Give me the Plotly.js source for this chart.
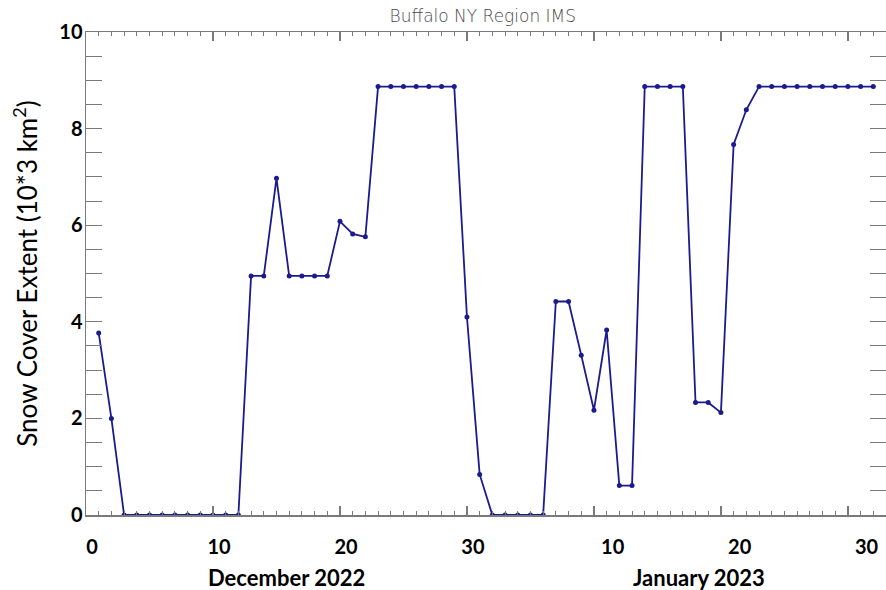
<!DOCTYPE html>
<html>
<head>
<meta charset="utf-8">
<script src="https://cdn.plot.ly/plotly-3.0.1.min.js"></script>
<style>html,body{margin:0;padding:0;background:#fff;}#chart{width:886px;height:590px;}</style>
</head>
<body>
<div id="chart"></div>
<script>
// Day index: 1 = Dec 1 2022 ... 62 = Jan 31 2023
const days = [1,2,3,4,5,6,7,8,9,10,11,12,13,14,15,16,17,18,19,20,21,22,23,24,25,26,27,28,29,30,31,
              32,33,34,35,36,37,38,39,40,41,42,43,44,45,46,47,48,49,50,51,52,53,54,55,56,57,58,59,60,61,62];
const snowCover = [3.77,2.0,0,0,0,0,0,0,0,0,0,0,4.95,4.95,6.97,4.95,4.95,4.95,4.95,6.08,5.82,5.76,
                   8.87,8.87,8.87,8.87,8.87,8.87,8.87,4.10,0.84,
                   0,0,0,0,0,4.42,4.42,3.31,2.17,3.83,0.61,0.61,8.87,8.87,8.87,8.87,2.33,2.33,2.12,7.67,8.39,
                   8.87,8.87,8.87,8.87,8.87,8.87,8.87,8.87,8.87,8.87];
const decLabelDays = [0,10,20,30];
const janLabelDays = [10,20,30];
const daysInDec = 31;
const tickVals = decLabelDays.concat(janLabelDays.map(d => d + daysInDec));
const tickText = decLabelDays.concat(janLabelDays).map(String);

const navy = '#1b1b8e';
const axisGray = '#7a7a7a';
const boldFont = {family: 'Lato, "Open Sans", sans-serif', size: 20, color: '#000', weight: 'bold'};
const monthFont = {family: 'Lato, "Open Sans", sans-serif', size: 22, color: '#000', weight: 'bold'};

const trace = {
  x: days, y: snowCover, type: 'scatter', mode: 'lines+markers',
  line: {color: navy, width: 1.8},
  marker: {color: navy, size: 5},
  hoverinfo: 'skip'
};

const layout = {
  width: 886, height: 590,
  margin: {l: 86, r: 0, t: 32, b: 75},
  paper_bgcolor: '#fff', plot_bgcolor: '#fff',
  showlegend: false,
  title: {
    text: 'Buffalo NY Region IMS',
    font: {family: '"DejaVu Sans", sans-serif', size: 17, color: '#4a4a4a', weight: 300},
    x: 0.496, xref: 'paper', y: 0.972, yref: 'container', yanchor: 'middle'
  },
  xaxis: {
    range: [0, 63], dtick: 10, tick0: 0,
    ticks: 'inside', ticklen: 9, tickwidth: 1.3, tickcolor: axisGray,
    minor: {dtick: 1, ticks: 'inside', ticklen: 4, tickwidth: 1, tickcolor: axisGray},
    showline: true, linecolor: axisGray, linewidth: 1.5, mirror: 'allticks',
    showgrid: false, zeroline: false, showticklabels: false
  },
  xaxis2: {
    overlaying: 'x', anchor: 'y', side: 'bottom',
    range: [0, 63], tickmode: 'array', tickvals: tickVals, ticktext: tickText,
    ticks: '', showline: false, showgrid: false, zeroline: false,
    tickfont: boldFont, ticklabelstandoff: 18, ticklabelshift: 6
  },
  yaxis: {
    range: [0, 10], dtick: 2, tick0: 0,
    ticks: 'inside', ticklen: 16, tickwidth: 1.3, tickcolor: axisGray,
    minor: {dtick: 0.5, ticks: 'inside', ticklen: 8, tickwidth: 1, tickcolor: axisGray},
    showline: true, linecolor: axisGray, linewidth: 1.5, mirror: 'allticks',
    showgrid: false, zeroline: false,
    tickfont: boldFont, ticklabelstandoff: -2,
    title: {
      text: 'Snow Cover Extent (10*3 km<sup>2</sup>)',
      font: {family: 'Lato, "Open Sans", sans-serif', size: 26, color: '#000'},
      standoff: 14
    }
  },
  annotations: [
    {text: 'December 2022', xref: 'x', yref: 'paper', x: 15.8, y: 0, yshift: -62,
     showarrow: false, font: monthFont, xanchor: 'center', yanchor: 'middle'},
    {text: 'January 2023', xref: 'x', yref: 'paper', x: 48.3, y: 0, yshift: -62,
     showarrow: false, font: monthFont, xanchor: 'center', yanchor: 'middle'}
  ]
};

const dummy = {x: [0], y: [0], xaxis: 'x2', yaxis: 'y', mode: 'markers', marker: {opacity: 0}, hoverinfo: 'skip'};

Plotly.newPlot('chart', [trace, dummy], layout, {staticPlot: true, displayModeBar: false});
</script>
</body>
</html>
